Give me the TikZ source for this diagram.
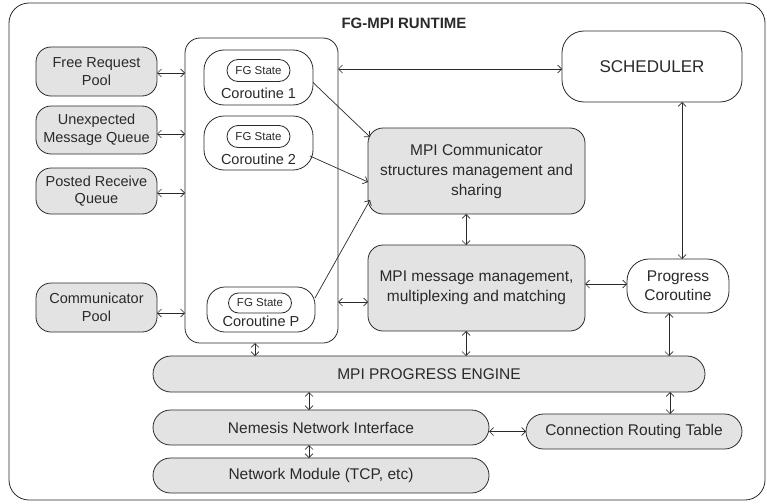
\documentclass[tikz,border=0pt]{standalone}
\usepackage{fontspec}
\setmainfont{Liberation Sans}
\usetikzlibrary{arrows.meta,shapes.misc}
\definecolor{boxgray}{HTML}{E3E3E3}
\definecolor{inkgray}{HTML}{2A2A2A}
\begin{document}
\begin{tikzpicture}[x=1pt,y=-1pt,
  line width=0.8pt, draw=inkgray, text=inkgray,
  base/.style={draw=inkgray, inner sep=0pt, outer sep=0pt, align=center},
  pool/.style={base, fill=boxgray, rounded corners=15pt, minimum width=121pt,
    font=\fontsize{14.5}{17.5}\selectfont},
  mpibox/.style={base, fill=boxgray, rounded corners=15pt, minimum width=217pt,
    minimum height=86pt, font=\fontsize{15.5}{20}\selectfont},
  whitebox/.style={base, fill=white, rounded corners=20pt},
  capsule/.style={base, rounded rectangle, fill=boxgray,
    font=\fontsize{15.5}{18}\selectfont},
  fgstate/.style={base, rounded rectangle, fill=white, minimum width=63pt,
    minimum height=22pt, font=\fontsize{11.5}{13}\selectfont},
  colabel/.style={inner sep=0pt, font=\fontsize{14.5}{17}\selectfont},
  link/.style={draw=inkgray, line width=0.7pt,
    {Straight Barb[length=4pt,width=8pt]}-{Straight Barb[length=4pt,width=8pt]}},
  tolink/.style={draw=inkgray, line width=0.7pt,
    -{Straight Barb[length=4pt,width=8pt]}}]
\useasboundingbox (0,0) rectangle (767,503);

% runtime frame and title
\draw[inkgray, line width=0.8pt, rounded corners=20pt] (9,3) rectangle (765,500);
\node[font=\bfseries\fontsize{15}{18}\selectfont, inner sep=0pt] (title) at (404,23) {FG-MPI RUNTIME};

% queues and pools
\node[pool, minimum height=49pt] (free) at (96.5,71.5) {Free Request\\Pool};
\node[pool, minimum height=48pt] (unexp) at (96.5,130) {Unexpected\\Message Queue};
\node[pool, minimum height=46pt] (posted) at (96.5,191) {Posted Receive\\Queue};
\node[pool, minimum height=49pt] (cpool) at (96.5,307.5) {Communicator\\Pool};

% coroutine container
\node[base, rounded corners=15pt, minimum width=153pt, minimum height=305pt] (cont) at (261.5,190.5) {};

\node[whitebox, minimum width=109pt, minimum height=55pt] (co1) at (258.5,77.5) {};
\node[fgstate] (fg1) at (258.5,70.5) {FG State};
\node[colabel] (co1l) at (258.5,93.5) {Coroutine 1};

\node[whitebox, minimum width=109pt, minimum height=54pt] (co2) at (258.5,143) {};
\node[fgstate] (fg2) at (258.5,136.5) {FG State};
\node[colabel] (co2l) at (258.5,159) {Coroutine 2};

\node[whitebox, rounded corners=18pt, minimum width=108pt, minimum height=45pt] (coP) at (261,309.5) {};
\node[fgstate, minimum height=20pt] (fgP) at (260,303) {FG State};
\node[colabel] (coPl) at (261,321.5) {Coroutine P};

% scheduler and MPI blocks
\node[whitebox, rounded corners=22pt, minimum width=180pt, minimum height=71pt,
  font=\fontsize{17}{20}\selectfont] (sched) at (652,66.5) {SCHEDULER};
\node[mpibox] (comm) at (476.5,171) {MPI Communicator\\structures management and\\sharing};
\node[mpibox] (msg) at (476.5,288) {MPI message management,\\multiplexing and matching};
\node[whitebox, rounded corners=22pt, minimum width=102pt, minimum height=54pt,
  font=\fontsize{15.5}{19}\selectfont] (prog) at (678,286) {Progress\\Coroutine};

% progress engine and network layers
\node[capsule, minimum width=552pt, minimum height=36pt] (engine) at (429,374) {MPI PROGRESS ENGINE};
\node[capsule, minimum width=336pt, minimum height=35pt] (nem) at (321,427.5) {Nemesis Network Interface};
\node[capsule, minimum width=336pt, minimum height=35pt] (mod) at (321,475.5) {Network Module (TCP, etc)};
\node[capsule, minimum width=216pt, minimum height=35pt] (crt) at (634,431.5) {Connection Routing Table};

% pools <-> coroutines
\draw[link] ([yshift=-1.5pt]free.east) -- ([yshift=-1.5pt]free.east -| cont.west);
\draw[link] ([yshift=-4pt]unexp.east) -- ([yshift=-4pt]unexp.east -| cont.west);
\draw[link] ([yshift=-2pt]posted.east) -- ([yshift=-2pt]posted.east -| cont.west);
\draw[link] ([yshift=-5.5pt]cpool.east) -- ([yshift=-5.5pt]cpool.east -| cont.west);

% coroutines <-> scheduler and message management
\draw[link] ([yshift=-2.5pt]sched.west -| cont.east) -- ([yshift=-2.5pt]sched.west);
\draw[link] ([yshift=-14pt]msg.west -| cont.east) -- ([yshift=-14pt]msg.west);

% coroutines -> communicator structures
\draw[tolink] ([yshift=-5pt]co1.east) -- ([xshift=2pt,yshift=-9pt]comm.north west);
\draw[tolink] ([xshift=-3pt,yshift=-13pt]co2.east) -- ([yshift=-11pt]comm.west);
\draw[tolink] ([yshift=11.5pt]coP.east) -- ([xshift=2pt,yshift=14pt]comm.south west);

% vertical links
\draw[link] ([xshift=-10.5pt]comm.south) -- ([xshift=-10.5pt]msg.north);
\draw[link] ([xshift=-10.5pt]msg.south) -- ([xshift=-10.5pt]msg.south |- engine.north);
\draw[link] ([xshift=-6.5pt]cont.south) -- ([xshift=-6.5pt]cont.south |- engine.north);
\draw[link] ([xshift=4pt]prog.north |- sched.south) -- ([xshift=4pt]prog.north);
\draw[link] ([xshift=-9pt]prog.south) -- ([xshift=-9pt]prog.south |- engine.north);
\draw[link] ([xshift=-12pt]nem.north |- engine.south) -- ([xshift=-12pt]nem.north);
\draw[link] ([xshift=-12pt]nem.south) -- ([xshift=-12pt]nem.south |- mod.north);
\draw[link] ([xshift=36pt]crt.north |- engine.south) -- ([xshift=36pt]crt.north);

% horizontal links
\draw[link] ([yshift=4pt]msg.east) -- ([yshift=4pt]msg.east -| prog.west);
\draw[link] (crt.west -| nem.east) -- (crt.west);
\end{tikzpicture}
\end{document}
